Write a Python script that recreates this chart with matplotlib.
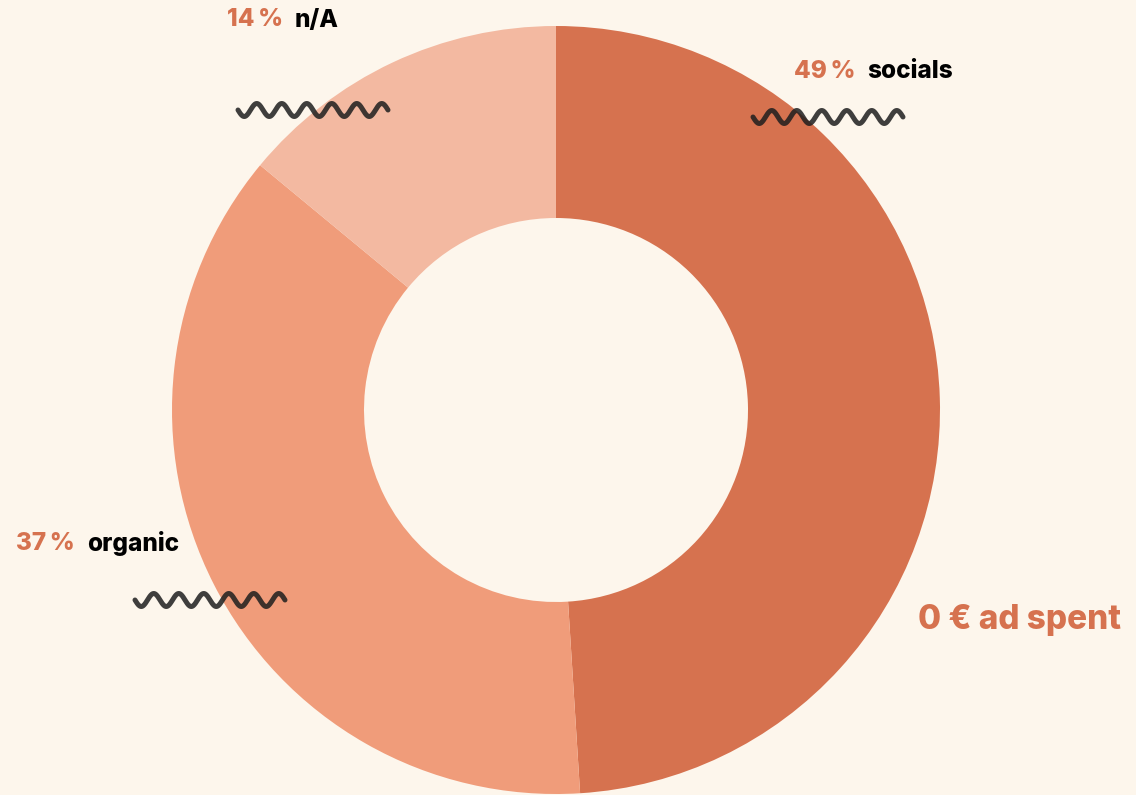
import numpy as np
import matplotlib.pyplot as plt

# data
labels = ["socials", "organic", "n/A"]
shares = [49, 37, 14]
colors = ["#D6724F", "#F09C7A", "#F3B9A1"]
note = "0 € ad spent"

bg = "#FDF6EC"
accent = "#D6724F"

plt.rcParams['font.family'] = ['Inter', 'DejaVu Sans']

W, H = 1136, 795
fig = plt.figure(figsize=(W / 100, H / 100), dpi=100, facecolor=bg)
ax = fig.add_axes([0, 0, 1, 1])
ax.set_facecolor(bg)

cx, cy, R = 556, H - 410, 384
ax.pie(shares, colors=colors, startangle=90, counterclock=False,
       center=(cx, cy), radius=R,
       wedgeprops=dict(width=R * 0.5, linewidth=0))

ax.set_xlim(0, W)
ax.set_ylim(0, H)
ax.set_aspect('equal')
ax.axis('off')


def squiggle(x0, y0, length=150, periods=6, amp=6.5):
    t = np.linspace(0, 1, 400)
    xs = x0 + t * length
    ys = y0 + amp * np.sin(2 * np.pi * periods * t)
    ax.plot(xs, H - ys, color="#1e1e1e", lw=3.6, solid_capstyle='round', alpha=0.85)


# label positions: (x where percent ends, y centre, squiggle x, squiggle y)
label_pos = {
    "n/A": (283, 20, 238, 110),
    "socials": (855, 72, 753, 117),
    "organic": (75, 543, 135, 600),
}

for lab, sh in zip(labels, shares):
    xe, yc, sx, sy = label_pos[lab]
    ax.text(xe, H - yc, f"{sh}\u2009%", color=accent, fontsize=17.5, fontweight='heavy',
            ha='right', va='center')
    ax.text(xe + 12, H - yc, lab, color="black", fontsize=17.5, fontweight='heavy',
            ha='left', va='center')
    squiggle(sx, sy)

ax.text(918, H - 620, note, color=accent, fontsize=24, fontweight='heavy',
        ha='left', va='center')

fig.savefig("out.png", dpi=100, facecolor=bg)
